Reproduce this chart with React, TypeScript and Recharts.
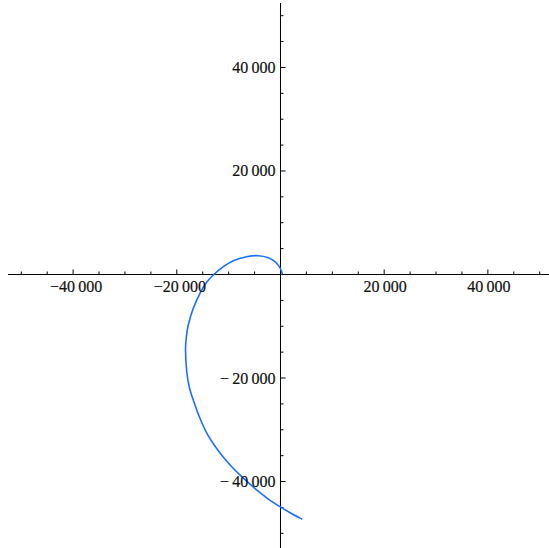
import { LineChart, Line, XAxis, YAxis, ReferenceLine, ReferenceDot } from 'recharts'

// parametric curve (from the origin outwards)
const curveX = [350, 230, -230, -1060, -2350, -4280, -6520, -9100, -11030, -12960, -14240, -15530, -16820, -17790, -18150, -18320, -18080, -17550, -16820, -15630, -14240, -12730, -11090, -9360, -7480, -4590, -2410, -100, 2030, 4210]
const curveY = [40, 540, 1510, 2470, 3250, 3630, 3440, 2670, 1510, -100, -1510, -3630, -6530, -9760, -12020, -14590, -18840, -21930, -24250, -27530, -30620, -33040, -35200, -37190, -39060, -41630, -43330, -44860, -46120, -47300]

const xTicks = [-50000, -45000, -40000, -35000, -30000, -25000, -20000, -15000, -10000, -5000, 5000, 10000, 15000, 20000, 25000, 30000, 35000, 40000, 45000, 50000]
const yTicks = [-50000, -45000, -40000, -35000, -30000, -25000, -20000, -15000, -10000, -5000, 5000, 10000, 15000, 20000, 25000, 30000, 35000, 40000, 45000, 50000]
const xLabelValues = [-40000, -20000, 20000, 40000]
const xLabels = ['\u221240\u2009000', '\u221220\u2009000', '20\u2009000', '40\u2009000']
const yLabelValues = [40000, 20000, -20000, -40000]
const yLabels = ['40\u2009000', '20\u2009000', '\u2212\u200920\u2009000', '\u2212\u200940\u2009000']

const X_DOMAIN = [-52560, 51790]
const Y_DOMAIN = [-52840, 52450]

const data = curveX.map((x, i) => ({ x, y: curveY[i] }))

// smooth parametric curve through the points (Catmull-Rom)
const catmullRom = (context: any) => {
  let pts: number[][] = []
  return {
    areaStart() {},
    areaEnd() {},
    lineStart() {
      pts = []
    },
    point(x: number, y: number) {
      pts.push([+x, +y])
    },
    lineEnd() {
      if (!pts.length) return
      context.moveTo(pts[0][0], pts[0][1])
      for (let i = 0; i < pts.length - 1; i++) {
        const p0 = pts[i - 1] || pts[i]
        const p1 = pts[i]
        const p2 = pts[i + 1]
        const p3 = pts[i + 2] || p2
        context.bezierCurveTo(
          p1[0] + (p2[0] - p0[0]) / 6,
          p1[1] + (p2[1] - p0[1]) / 6,
          p2[0] - (p3[0] - p1[0]) / 6,
          p2[1] - (p3[1] - p1[1]) / 6,
          p2[0],
          p2[1]
        )
      }
    },
  }
}

const labelStyle = {
  fontFamily: '"Liberation Serif", "Times New Roman", Times, serif',
  fontSize: 16,
  fill: '#111',
  stroke: '#111',
  strokeWidth: 0.2,
}

export default function App() {
  return (
    <div style={{ position: 'absolute', left: 0, top: 0 }}>
      <LineChart width={549} height={548} data={data} margin={{ top: 3, right: 0, bottom: 0, left: 8 }}>
        <XAxis dataKey="x" type="number" domain={X_DOMAIN} allowDataOverflow hide />
        <YAxis dataKey="y" type="number" domain={Y_DOMAIN} allowDataOverflow hide />
        <ReferenceLine y={0} stroke="#000" strokeWidth={1} />
        <ReferenceLine x={0} stroke="#000" strokeWidth={1} />
        {xTicks.map((v) => (
          <ReferenceLine
            key={'xt' + v}
            segment={[{ x: v, y: 0 }, { x: v, y: v % 20000 === 0 ? 970 : 580 }]}
            stroke="#000"
            strokeWidth={1}
          />
        ))}
        {yTicks.map((v) => (
          <ReferenceLine
            key={'yt' + v}
            segment={[{ x: 0, y: v }, { x: v % 20000 === 0 ? 970 : 580, y: v }]}
            stroke="#000"
            strokeWidth={1}
          />
        ))}
        {xLabelValues.map((v, i) => (
          <ReferenceDot
            key={'xl' + v}
            x={v}
            y={0}
            r={0}
            shape={(p: any) => (
              <text x={p.cx + (v < 0 ? 3 : 1)} y={p.cy + 18} textAnchor="middle" style={labelStyle}>
                {xLabels[i]}
              </text>
            )}
          />
        ))}
        {yLabelValues.map((v, i) => (
          <ReferenceDot
            key={'yl' + v}
            x={0}
            y={v}
            r={0}
            shape={(p: any) => (
              <text x={p.cx - 5} y={p.cy + 5.5} textAnchor="end" style={labelStyle}>
                {yLabels[i]}
              </text>
            )}
          />
        ))}
        <Line dataKey="y" type={catmullRom as any} stroke="#1a6fff" strokeWidth={1.6} dot={false} isAnimationActive={false} />
      </LineChart>
    </div>
  )
}
